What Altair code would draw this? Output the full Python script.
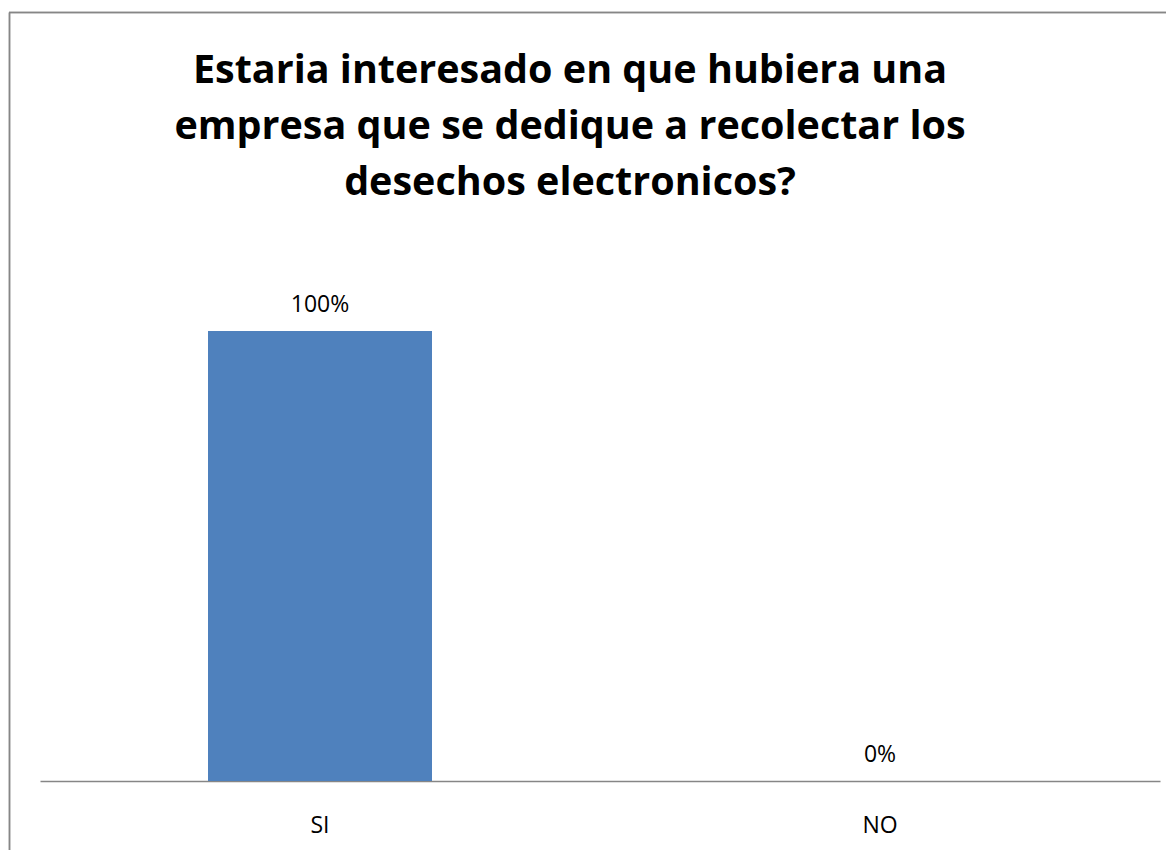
import altair as alt
import pandas as pd

categories = ["SI", "NO"]
values = [1.0, 0.0]
labels = ["100%", "0%"]
title_lines = [
    "Estaria interesado en que hubiera una",
    "empresa que se dedique a recolectar los",
    "desechos electronicos?",
]

df = pd.DataFrame({"cat": categories, "val": values, "lab": labels})

x = alt.X("cat:N", sort=categories, title=None,
          scale=alt.Scale(paddingInner=0.6, paddingOuter=0.3),
          axis=alt.Axis(labelAngle=0, ticks=False, tickSize=0, labelPadding=51,
                        labelBaseline="alphabetic", labelFont="Open Sans",
                        labelFontSize=23, labelColor="#000000",
                        domainColor="#868686", domainWidth=1.5, grid=False))
y = alt.Y("val:Q", scale=alt.Scale(domain=[0, 1], nice=False, zero=True), axis=None)

bars = alt.Chart(df).mark_bar(color="#4F81BD").encode(x=x, y=y)
text = alt.Chart(df).mark_text(font="Open Sans", fontSize=23, color="#000000",
                               baseline="alphabetic", dy=-19).encode(
    x=alt.X("cat:N", sort=categories), y=y, text="lab:N")

frame_left = alt.Chart(df).mark_rule(color="#868686", strokeWidth=1.5).encode(
    x=alt.value(-30.5), y=alt.value(-318.5), y2=alt.value(600))
frame_top = alt.Chart(df).mark_rule(color="#868686", strokeWidth=1.5).encode(
    x=alt.value(-31), x2=alt.value(1200), y=alt.value(-318.5))

chart = alt.layer(frame_left, frame_top, bars, text).properties(
    width=1120, height=450,
    title=alt.TitleParams(text=title_lines, font="Open Sans", fontSize=39.5,
                          fontWeight="bold", color="#000000", anchor="middle",
                          baseline="alphabetic", lineHeight=56, offset=-223, dx=-30),
    padding={"left": 32, "top": 323, "right": 6, "bottom": 69},
    autosize=alt.AutoSizeParams(type="none"),
).configure_view(stroke=None)

chart.save("out.html", embed_options={"renderer": "svg", "actions": False})
